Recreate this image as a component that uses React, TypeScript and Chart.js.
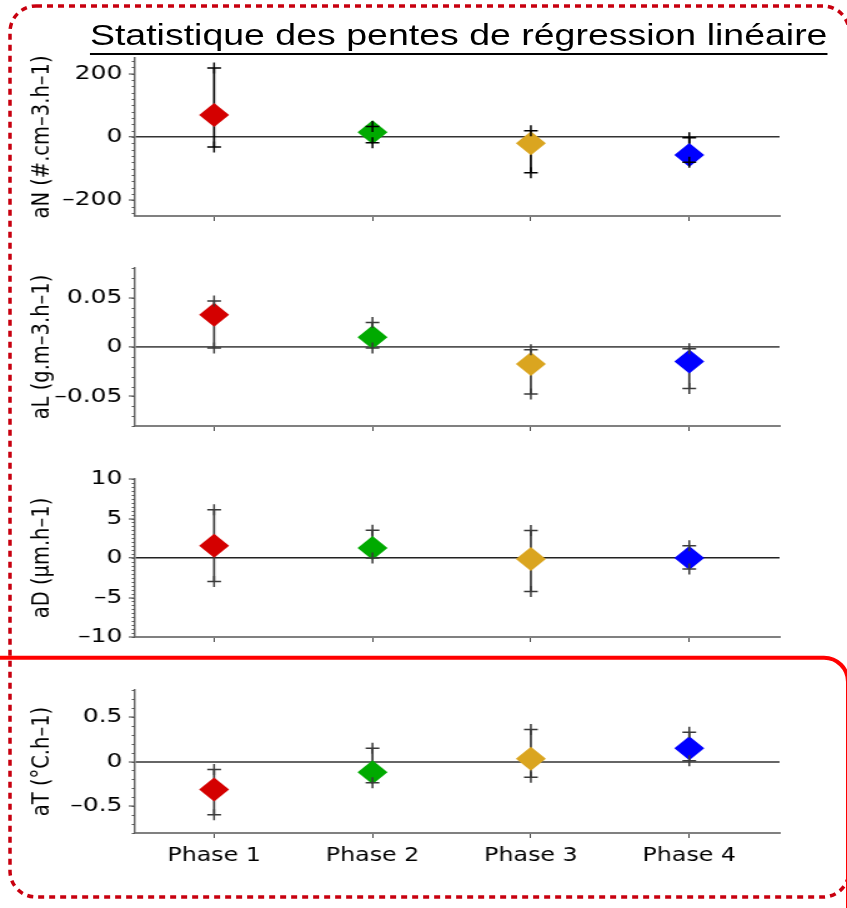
import React, { useEffect, useRef } from 'react';
import { Chart, registerables } from 'chart.js';

Chart.register(...registerables);

// ---------- data ----------
const phases = ['Phase 1', 'Phase 2', 'Phase 3', 'Phase 4'];
const phasePos = [1, 2, 3, 4];
const markerColors = ['#d40000', '#00aa00', '#daa520', '#0000ff'];

const aN_mean = [70, 15, -20, -57];
const aN_low = [-32, -18, -113, -80];
const aN_high = [218, 33, 20, -2];
const aN_ticks = [-200, 0, 200];

const aL_mean = [0.0327, 0.0099, -0.0173, -0.0146];
const aL_low = [-0.001, -0.001, -0.0476, -0.042];
const aL_high = [0.0466, 0.0248, -0.0027, -0.0017];
const aL_ticks = [-0.05, 0, 0.05];

const aD_mean = [1.56, 1.27, -0.13, 0.0];
const aD_low = [-2.97, 0.0, -4.24, -1.4];
const aD_high = [6.1, 3.5, 3.47, 1.56];
const aD_ticks = [-10, -5, 0, 5, 10];

const aT_mean = [-0.312, -0.12, 0.03, 0.148];
const aT_low = [-0.595, -0.238, -0.176, 0.008];
const aT_high = [-0.09, 0.148, 0.357, 0.327];
const aT_ticks = [-0.5, 0, 0.5];

const mainTitle = 'Statistique des pentes de régression linéaire';

// ---------- layout ----------
const FONT = '"DejaVu Sans", "Verdana", sans-serif';
const STRETCH = 847 / 678;
const INNER_W = 678;

type PanelSpec = {
  title: string;
  mean: number[];
  low: number[];
  high: number[];
  ticks: number[];
  min: number;
  max: number;
  minorStep: number;
  top: number;
  height: number;
  xAxisHeight: number;
  padBottom: number;
  showX: boolean;
  errColor: string;
  zeroColor: string;
  zeroWidth: number;
};

const panels: PanelSpec[] = [
  { title: 'aN (#.cm–3.h–1)', mean: aN_mean, low: aN_low, high: aN_high, ticks: aN_ticks, min: -250, max: 250, minorStep: 20, top: 38, height: 198, xAxisHeight: 8, padBottom: 12, showX: false, errColor: '#000000', zeroColor: '#333333', zeroWidth: 1.5 },
  { title: 'aL (g.m–3.h–1)', mean: aL_mean, low: aL_low, high: aL_high, ticks: aL_ticks, min: -0.08, max: 0.08, minorStep: 0.01, top: 248, height: 198, xAxisHeight: 8, padBottom: 12, showX: false, errColor: '#3a3a3a', zeroColor: '#555555', zeroWidth: 1.8 },
  { title: 'aD (µm.h–1)', mean: aD_mean, low: aD_low, high: aD_high, ticks: aD_ticks, min: -10, max: 10, minorStep: 0.5, top: 459, height: 198, xAxisHeight: 8, padBottom: 12, showX: false, errColor: '#3a3a3a', zeroColor: '#222222', zeroWidth: 1.5 },
  { title: 'aT (°C.h–1)', mean: aT_mean, low: aT_low, high: aT_high, ticks: aT_ticks, min: -0.8, max: 0.8, minorStep: 0.1, top: 670, height: 210, xAxisHeight: 45, padBottom: 2, showX: true, errColor: '#3a3a3a', zeroColor: '#666666', zeroWidth: 2 },
];

function fmt(v: number): string {
  if (v === 0) return '0';
  const s = String(Math.abs(v));
  return v < 0 ? '–' + s : s;
}

const minorTickPlugin = {
  id: 'minorTicks',
  afterDraw(chart: any, _args: any, opts: any) {
    const y = chart.scales.y;
    const area = chart.chartArea;
    if (!opts || !opts.step) return;
    const ctx = chart.ctx;
    ctx.save();
    ctx.strokeStyle = opts.color;
    ctx.lineWidth = 1;
    const n0 = Math.ceil(y.min / opts.step - 1e-9);
    const n1 = Math.floor(y.max / opts.step + 1e-9);
    for (let k = n0; k <= n1; k++) {
      const py = Math.round(y.getPixelForValue(k * opts.step)) + 0.5;
      ctx.beginPath();
      ctx.moveTo(area.left - opts.length, py);
      ctx.lineTo(area.left, py);
      ctx.stroke();
    }
    ctx.restore();
  },
};

function Panel({ spec }: { spec: PanelSpec }) {
  const ref = useRef<HTMLCanvasElement>(null);
  useEffect(() => {
    const errLine: any[] = [];
    const caps: any[] = [];
    phasePos.forEach((x, i) => {
      errLine.push({ x, y: spec.low[i] }, { x, y: spec.high[i] }, { x, y: null });
      caps.push({ x, y: spec.low[i] }, { x, y: spec.high[i] });
    });
    const markers = phasePos.map((x, i) => ({ x, y: spec.mean[i] }));
    const chart = new Chart(ref.current as HTMLCanvasElement, {
      type: 'scatter',
      data: {
        datasets: [
          {
            type: 'line',
            data: errLine,
            borderColor: spec.errColor,
            borderWidth: 1.7,
            pointRadius: 0,
            spanGaps: false,
            fill: false,
            tension: 0,
            order: 3,
          } as any,
          {
            type: 'scatter',
            data: markers,
            pointStyle: 'rectRot',
            pointRadius: 12,
            pointHoverRadius: 12,
            backgroundColor: markerColors,
            borderColor: markerColors,
            borderWidth: 0,
            order: 2,
          } as any,
          {
            type: 'scatter',
            data: caps,
            pointStyle: 'cross',
            pointRadius: 5.5,
            pointHoverRadius: 5.5,
            borderColor: spec.errColor,
            borderWidth: 1.5,
            order: 1,
          } as any,
        ],
      },
      options: {
        animation: false,
        responsive: true,
        maintainAspectRatio: false,
        events: [],
        layout: { padding: { left: 0, right: INNER_W - 624, top: 20, bottom: spec.padBottom } },
        plugins: {
          legend: { display: false },
          tooltip: { enabled: false },
          minorTicks: { step: spec.minorStep, length: 2.5, color: '#555555' },
        } as any,
        scales: {
          x: {
            type: 'linear',
            min: 0.5,
            max: 4.57,
            afterBuildTicks: (s: any) => {
              s.ticks = phasePos.map((v) => ({ value: v }));
            },
            afterFit: (s: any) => {
              s.height = spec.xAxisHeight;
            },
            ticks: {
              display: spec.showX,
              autoSkip: false,
              maxRotation: 0,
              padding: 7,
              color: '#000000',
              font: { family: FONT, size: 19 },
              callback: (v: any) => {
                const i = phasePos.indexOf(Number(v));
                return i >= 0 ? phases[i] : '';
              },
            },
            grid: { drawOnChartArea: false, drawTicks: true, tickLength: 5, tickColor: '#444444', tickWidth: 1 },
            border: { display: true, color: '#808080', width: 2 },
          } as any,
          y: {
            type: 'linear',
            min: spec.min,
            max: spec.max,
            afterBuildTicks: (s: any) => {
              s.ticks = spec.ticks.map((v) => ({ value: v }));
            },
            afterFit: (s: any) => {
              s.width = 108;
            },
            ticks: {
              autoSkip: false,
              padding: 5,
              color: '#000000',
              font: { family: FONT, size: 20 },
              callback: (v: any) => fmt(Number(v)),
            },
            grid: {
              drawOnChartArea: true,
              drawTicks: true,
              tickLength: 5,
              tickColor: '#444444',
              tickWidth: 1,
              color: (c: any) => (c.tick && c.tick.value === 0 ? spec.zeroColor : 'rgba(0,0,0,0)'),
              lineWidth: (c: any) => (c.tick && c.tick.value === 0 ? spec.zeroWidth : 0),
            },
            border: { display: true, color: '#666666', width: 1.5 },
            title: {
              display: true,
              text: spec.title,
              color: '#000000',
              font: { family: FONT, size: 19.5 },
              padding: { top: 22, bottom: 0 },
            },
          } as any,
        },
      },
      plugins: [minorTickPlugin as any],
    });
    return () => chart.destroy();
  }, [spec]);
  return (
    <div style={{ position: 'absolute', left: 0, top: spec.top, width: INNER_W, height: spec.height }}>
      <canvas ref={ref} />
    </div>
  );
}

function Frame() {
  const ref = useRef<HTMLCanvasElement>(null);
  useEffect(() => {
    const c = ref.current as HTMLCanvasElement;
    const ctx = c.getContext('2d') as CanvasRenderingContext2D;
    ctx.clearRect(0, 0, c.width, c.height);
    ctx.strokeStyle = '#c8000f';
    ctx.lineWidth = 3.5;
    ctx.setLineDash([6, 5]);
    ctx.beginPath();
    (ctx as any).roundRect(10, 6, 839, 891, 26);
    ctx.stroke();
    ctx.setLineDash([]);
    ctx.strokeStyle = '#ff0000';
    ctx.lineWidth = 4;
    ctx.beginPath();
    (ctx as any).roundRect(-40, 657.7, 888, 400, 24);
    ctx.stroke();
  }, []);
  return (
    <canvas
      ref={ref}
      width={847}
      height={908}
      style={{ position: 'absolute', left: 0, top: 0, width: 847, height: 908, pointerEvents: 'none' }}
    />
  );
}

export default function App() {
  return (
    <div style={{ position: 'absolute', left: 0, top: 0, width: 847, height: 908, overflow: 'hidden', background: '#ffffff' }}>
      <div
        style={{
          position: 'absolute',
          left: 0,
          top: 0,
          width: INNER_W,
          height: 908,
          transform: `scaleX(${STRETCH})`,
          transformOrigin: '0 0',
        }}
      >
        <div
          style={{
            position: 'absolute',
            left: 72,
            top: 20,
            font: '30px "Liberation Sans", Arial, sans-serif',
            lineHeight: '30px',
            whiteSpace: 'nowrap',
            color: '#000000',
            textDecoration: 'underline',
            textDecorationThickness: '2px',
            textUnderlineOffset: '8px',
            textDecorationSkipInk: 'none',
          } as any}
        >
          {mainTitle}
        </div>
        {panels.map((p, i) => (
          <Panel key={i} spec={p} />
        ))}
      </div>
      <Frame />
    </div>
  );
}
